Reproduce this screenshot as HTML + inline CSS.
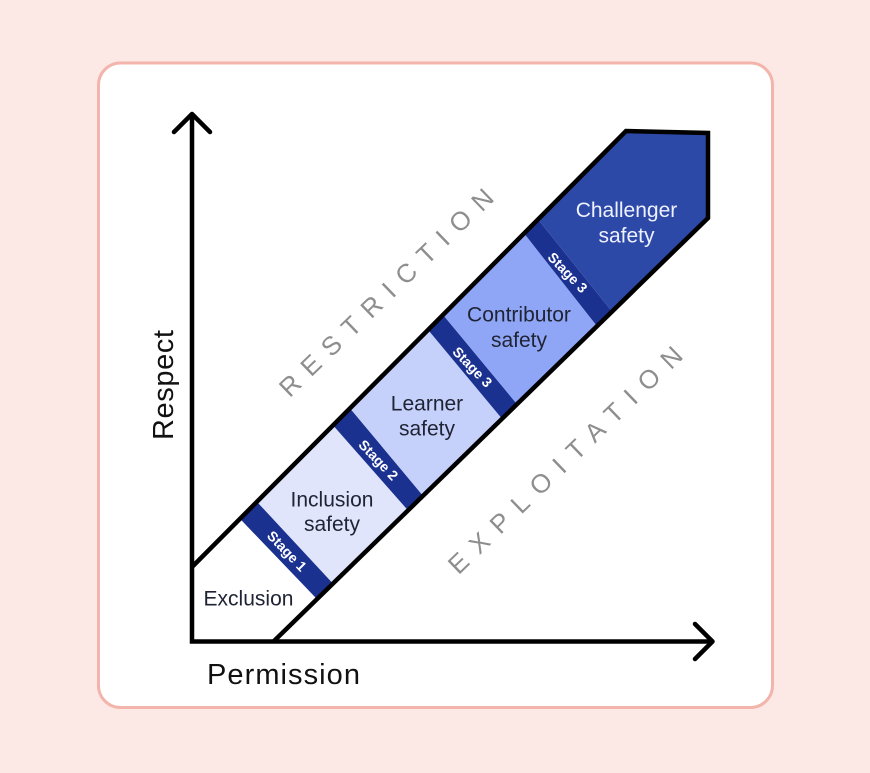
<!DOCTYPE html>
<html>
<head>
<meta charset="utf-8">
<style>
  html,body{margin:0;padding:0;background:#fce8e5;}
  svg{display:block;}
  text{font-family:"Liberation Sans", Arial, sans-serif;}
</style>
</head>
<body>
<svg width="870" height="773" viewBox="0 0 870 773" xmlns="http://www.w3.org/2000/svg">
  <rect x="0" y="0" width="870" height="773" fill="#fce8e5"/>
  <rect x="98.5" y="63" width="674" height="644.5" rx="22" ry="22" fill="#ffffff" stroke="#f3b4ab" stroke-width="3"/>

  <!-- band fills -->
  <polygon points="240,518.8 257,501.7 333,583.5 317,599.1" fill="#1b3190"/>
  <polygon points="257,501.7 333,425.3 408,510.4 333,583.5" fill="#e0e5fc"/>
  <polygon points="333,425.3 350,408.2 423,495.7 408,510.4" fill="#1b3190"/>
  <polygon points="350,408.2 428,329.8 502,418.7 423,495.7" fill="#c6d1fb"/>
  <polygon points="428,329.8 443,314.7 517,404.1 502,418.7" fill="#1b3190"/>
  <polygon points="443,314.7 524,233.3 597,326.1 517,404.1" fill="#8fa6f6"/>
  <polygon points="524,233.3 538,219.3 612,311.5 597,326.1" fill="#1b3190"/>
  <polygon points="538,219.3 626,130.8 708,133 708,217.9 612,311.5" fill="#2d49a7"/>

  <!-- band outline -->
  <path d="M192,567 L626,131 L708,133 L708,218 L273,642" fill="none" stroke="#000" stroke-width="4.5" stroke-linejoin="miter"/>

  <!-- axes -->
  <path d="M192,115 V641.5 H712" fill="none" stroke="#000" stroke-width="4.5" stroke-linejoin="miter"/>
  <polyline points="174,132 192,114 210,132" fill="none" stroke="#000" stroke-width="4.5" stroke-linecap="round" stroke-linejoin="round"/>
  <polyline points="695,624 712.5,641.5 695,659" fill="none" stroke="#000" stroke-width="4.5" stroke-linecap="round" stroke-linejoin="round"/>

  <!-- axis labels -->
  <text x="207" y="684" font-size="29" fill="#111" textLength="153" lengthAdjust="spacing">Permission</text>
  <text transform="translate(173,385) rotate(-90)" x="0" y="0" font-size="29" fill="#111" text-anchor="middle" textLength="110" lengthAdjust="spacing">Respect</text>

  <!-- region labels -->
  <text transform="translate(392.5,299) rotate(-44)" x="0" y="0" font-size="26" fill="#8e8e8e" text-anchor="middle" textLength="286" lengthAdjust="spacing">RESTRICTION</text>
  <text transform="translate(571.4,466.5) rotate(-44)" x="0" y="0" font-size="26" fill="#8e8e8e" text-anchor="middle" textLength="314" lengthAdjust="spacing">EXPLOITATION</text>

  <!-- stage labels -->
  <g font-size="14" font-weight="bold" fill="#ffffff" text-anchor="middle" dominant-baseline="central">
    <text transform="translate(287,551) rotate(46)">Stage 1</text>
    <text transform="translate(378.5,460) rotate(46)">Stage 2</text>
    <text transform="translate(472.5,367) rotate(46)">Stage 3</text>
    <text transform="translate(567.7,272.5) rotate(46)">Stage 3</text>
  </g>

  <!-- zone labels -->
  <g font-size="21" fill="#1f2333" text-anchor="middle" dominant-baseline="central">
    <text x="248.5" y="599">Exclusion</text>
    <text x="332" y="500">Inclusion</text>
    <text x="332" y="524.5">safety</text>
    <text x="427" y="404">Learner</text>
    <text x="427" y="429">safety</text>
    <text x="519" y="315">Contributor</text>
    <text x="519" y="340.5">safety</text>
  </g>
  <g font-size="21" fill="#eef1ff" text-anchor="middle" dominant-baseline="central">
    <text x="626.5" y="210.5">Challenger</text>
    <text x="626.5" y="236">safety</text>
  </g>
</svg>
</body>
</html>
